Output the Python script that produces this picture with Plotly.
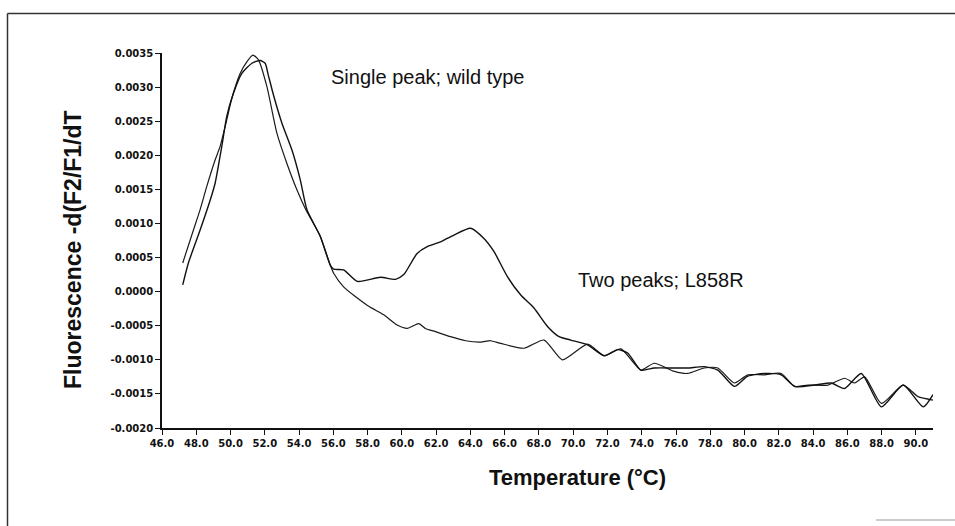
import plotly.graph_objects as go

# ---------------- data ----------------
wt_temp = [47.21, 47.83, 48.22, 48.61, 49.10, 49.39, 49.78, 50.08, 50.56, 50.95, 51.30, 51.63,
           52.12, 52.71, 53.29, 53.88, 54.36, 55.24, 55.82, 56.02, 56.60, 57.97, 58.94, 59.73,
           60.31, 60.99, 61.38, 62.00, 62.84, 63.72, 64.60, 65.18, 65.77, 67.13, 68.30, 69.37,
           70.84, 71.81, 72.78, 73.95, 74.73, 75.90, 76.68, 77.65, 78.44, 79.41, 80.19, 81.16,
           82.14, 82.92, 83.70, 84.87, 85.84, 86.43, 87.01, 87.99, 89.26, 90.13, 91.00]
wt_value = [0.00042, 0.00090, 0.00120, 0.00154, 0.00193, 0.00213, 0.00252, 0.00284, 0.00320,
            0.00337, 0.00347, 0.00340, 0.00301, 0.00232, 0.00188, 0.00149, 0.00122, 0.00081,
            0.00039, 0.00027, 0.00007, -0.00020, -0.00034, -0.00049, -0.00054, -0.00047,
            -0.00054, -0.00059, -0.00066, -0.00072, -0.00074, -0.00072, -0.00076, -0.00083,
            -0.00071, -0.00100, -0.00077, -0.00094, -0.00084, -0.00115, -0.00105, -0.00117,
            -0.00120, -0.00112, -0.00112, -0.00134, -0.00122, -0.00122, -0.00120, -0.00139,
            -0.00137, -0.00137, -0.00127, -0.00134, -0.00125, -0.00164, -0.00137, -0.00154,
            -0.00159]

mut_temp = [47.21, 47.54, 48.22, 48.81, 49.10, 49.49, 49.78, 50.17, 50.66, 51.25, 51.73, 52.02,
            52.20, 52.51, 53.00, 53.58, 54.07, 54.46, 55.24, 55.82, 56.02, 56.60, 57.39, 58.75,
            59.63, 60.11, 60.89, 61.48, 62.26, 63.04, 64.01, 64.79, 65.37, 66.16, 66.94, 67.71,
            68.50, 69.18, 69.86, 70.84, 71.81, 72.59, 73.18, 73.95, 74.73, 75.90, 76.68, 77.65,
            78.44, 79.41, 80.19, 81.16, 82.14, 82.92, 84.09, 85.06, 85.84, 86.81, 87.99, 89.26,
            90.43, 91.00]
mut_value = [0.00010, 0.00042, 0.00090, 0.00134, 0.00159, 0.00213, 0.00257, 0.00291, 0.00320,
             0.00335, 0.00339, 0.00335, 0.00318, 0.00288, 0.00247, 0.00208, 0.00164, 0.00120,
             0.00081, 0.00039, 0.00033, 0.00032, 0.00015, 0.00021, 0.00018, 0.00025, 0.00056,
             0.00066, 0.00073, 0.00083, 0.00093, 0.00078, 0.00059, 0.00022, -0.00005, -0.00024,
             -0.00051, -0.00066, -0.00071, -0.00078, -0.00094, -0.00085, -0.00090, -0.00115,
             -0.00112, -0.00112, -0.00112, -0.00110, -0.00115, -0.00139, -0.00124, -0.00120,
             -0.00122, -0.00139, -0.00137, -0.00134, -0.00142, -0.00120, -0.00169, -0.00137,
             -0.00169, -0.00151]

x_ticks = [46.0, 48.0, 50.0, 52.0, 54.0, 56.0, 58.0, 60.0, 62.0, 64.0, 66.0, 68.0, 70.0, 72.0,
           74.0, 76.0, 78.0, 80.0, 82.0, 84.0, 86.0, 88.0, 90.0]
x_tick_labels = ["46.0", "48.0", "50.0", "52.0", "54.0", "56.0", "58.0", "60.0", "62.0", "64.0",
                 "66.0", "68.0", "70.0", "72.0", "74.0", "76.0", "78.0", "80.0", "82.0", "84.0",
                 "86.0", "88.0", "90.0"]
y_ticks = [0.0035, 0.0030, 0.0025, 0.0020, 0.0015, 0.0010, 0.0005, 0.0, -0.0005, -0.0010,
           -0.0015, -0.0020]
y_tick_labels = ["0.0035", "0.0030", "0.0025", "0.0020", "0.0015", "0.0010", "0.0005", "0.0000",
                 "-0.0005", "-0.0010", "-0.0015", "-0.0020"]

label_wt = "Single peak; wild type"
label_mut = "Two peaks; L858R"
x_title = "Temperature (°C)"
y_title = "Fluorescence -d(F2/F1/dT"

# ---------------- figure ----------------
fig = go.Figure()
fig.add_trace(go.Scatter(x=wt_temp, y=wt_value, mode="lines", name="wild type",
                         line=dict(color="#1a1a1a", width=1.2, shape="spline", smoothing=0.6)))
fig.add_trace(go.Scatter(x=mut_temp, y=mut_value, mode="lines", name="L858R",
                         line=dict(color="#111111", width=1.4, shape="spline", smoothing=0.6)))

fig.add_annotation(x=61.47, y=0.00315, text=label_wt, showarrow=False,
                   font=dict(family="Liberation Sans, Arial", size=20, color="#111111"))
fig.add_annotation(x=75.12, y=0.000172, text=label_mut, showarrow=False,
                   font=dict(family="Liberation Sans, Arial", size=20, color="#111111"))

# page geometry
L, R, T, B = 162, 22, 53, 98
W, H = 955, 526
pw, ph = W - L - R, H - T - B
def px(xp):
    return (xp - L) / pw
def py(yp):
    return (H - B - yp) / ph

title_font = dict(family="Liberation Sans, Arial", color="#111111", weight="bold")
# axis titles (placed as in the scan)
fig.add_annotation(xref="paper", yref="paper", x=px(577), y=py(477), text=x_title,
                   showarrow=False, xanchor="center", yanchor="middle",
                   font=dict(size=22, **title_font))
fig.add_annotation(xref="paper", yref="paper", x=px(73), y=py(250), text=y_title,
                   showarrow=False, xanchor="center", yanchor="middle", textangle=-90,
                   font=dict(size=23, **title_font))

# page border (scanned frame)
frame = dict(color="#333333", width=1.5)
fig.add_shape(type="line", xref="paper", yref="paper", x0=px(7.5), x1=px(7.5),
              y0=py(13.5), y1=py(526), line=frame)
fig.add_shape(type="line", xref="paper", yref="paper", x0=px(7.5), x1=px(955),
              y0=py(13.5), y1=py(13.5), line=frame)
fig.add_shape(type="line", xref="paper", yref="paper", x0=px(876), x1=px(955),
              y0=py(520), y1=py(520), line=dict(color="#999999", width=1))

tick_font = dict(family="DejaVu Sans", size=10, color="#111111", weight="bold")
fig.update_layout(
    width=W, height=H,
    margin=dict(l=L, r=R, t=T, b=B),
    paper_bgcolor="white", plot_bgcolor="white",
    showlegend=False,
    xaxis=dict(range=[46.0, 91.0], tickmode="array", tickvals=x_ticks, ticktext=x_tick_labels,
               showgrid=False, zeroline=False, showline=True, linecolor="#111111", linewidth=2,
               ticks="outside", ticklen=5, tickwidth=1.2, tickcolor="#111111",
               tickfont=tick_font),
    yaxis=dict(range=[-0.0020, 0.0035], tickmode="array", tickvals=y_ticks, ticktext=y_tick_labels,
               showgrid=False, zeroline=False, showline=True, linecolor="#111111", linewidth=1.5,
               ticks="outside", ticklen=5, tickwidth=1.2, tickcolor="#111111",
               tickfont=tick_font),
)

fig.write_html("out.html", config={"displayModeBar": False},
               post_script="document.body.style.margin='0px';")
